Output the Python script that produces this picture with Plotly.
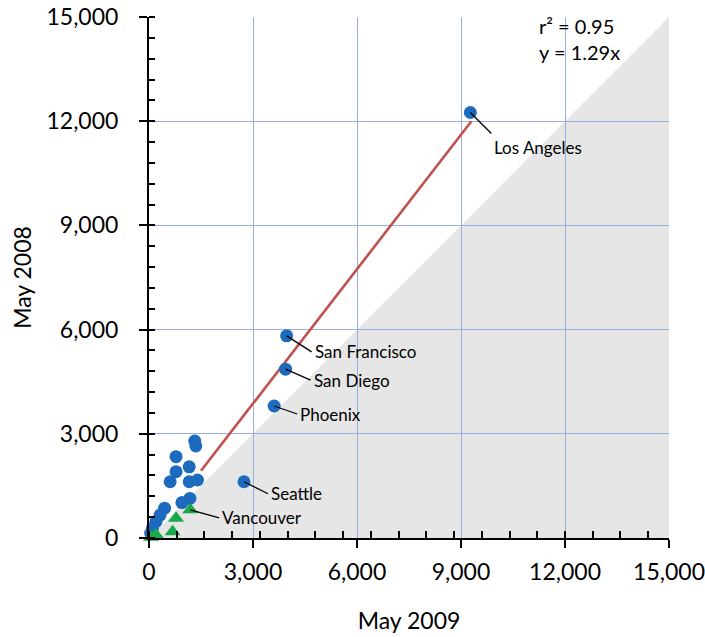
import plotly.graph_objects as go

# Axis scale shared by both axes (square plot, equal ranges)
AXIS_MAX = 15000
TICK_VALS = [0, 3000, 6000, 9000, 12000, 15000]
TICK_TEXT = ["0", "3,000", "6,000", "9,000", "12,000", "15,000"]

# US metros (blue): May 2009 vs May 2008
us_city = ["Los Angeles", "San Francisco", "San Diego", "Phoenix", "Seattle",
           "", "", "", "", "", "", "", "", "", "", "", "", "", "", ""]
us_may2009 = [9270, 3970, 3940, 3610, 2740,
              1320, 1350, 780, 1160, 780, 610, 1160, 1400, 1180, 950,
              450, 320, 200, 100, 50]
us_may2008 = [12250, 5820, 4860, 3800, 1620,
              2790, 2650, 2340, 2050, 1910, 1620, 1620, 1670, 1140, 1020,
              860, 660, 470, 280, 140]

# Canadian metros (green)
ca_city = ["Vancouver", "", "", "", ""]
ca_may2009 = [1190, 780, 680, 200, 60]
ca_may2008 = [810, 570, 180, 90, 20]

# Regression through origin
SLOPE = 1.29
R_SQUARED = 0.95
fit_x = [1500, 9300]
fit_y = [SLOPE * v for v in fit_x]

FONT = "Lato, 'Open Sans', sans-serif"
BLUE = "#1d6bbf"
GREEN = "#19a84a"
RED = "#c0504d"
GRID = "#97afe0"

fig = go.Figure()

fig.add_trace(go.Scatter(x=fit_x, y=fit_y, mode="lines",
                         line=dict(color=RED, width=2.6),
                         hoverinfo="skip", showlegend=False))
fig.add_trace(go.Scatter(x=us_may2009, y=us_may2008, mode="markers",
                         marker=dict(symbol="circle", size=13, color=BLUE),
                         text=us_city, cliponaxis=False, showlegend=False))
fig.add_trace(go.Scatter(x=ca_may2009, y=ca_may2008, mode="markers",
                         marker=dict(symbol="triangle-up", size=14, color=GREEN),
                         text=ca_city, cliponaxis=False, showlegend=False))

# leader-line offsets (pixels) for the named points
leader = {
    "Los Angeles": (21, 21, "top"),
    "San Francisco": (25, 16, "middle"),
    "San Diego": (25, 11, "middle"),
    "Phoenix": (23, 8, "middle"),
    "Seattle": (24, 12, "middle"),
    "Vancouver": (29, 8, "middle"),
}

annotations = []
for names, xs, ys in ((us_city, us_may2009, us_may2008),
                      (ca_city, ca_may2009, ca_may2008)):
    for name, xv, yv in zip(names, xs, ys):
        if not name:
            continue
        ax, ay, yanchor = leader[name]
        annotations.append(dict(
            x=xv, y=yv, xref="x", yref="y", text=name,
            showarrow=True, arrowhead=0, arrowwidth=1.3, arrowcolor="black",
            ax=ax, ay=ay, axref="pixel", ayref="pixel",
            xanchor="left", yanchor=yanchor, borderpad=2,
            font=dict(family=FONT, size=17, color="black")))

annotations.append(dict(x=0.746, y=1.01, xref="paper", yref="paper",
                        text=f"r² = {R_SQUARED:.2f}<br>y = {SLOPE:.2f}x",
                        showarrow=False, align="left",
                        xanchor="left", yanchor="top",
                        font=dict(family=FONT, size=20, color="black")))

axis_common = dict(
    range=[0, AXIS_MAX], tickmode="array", tickvals=TICK_VALS, ticktext=TICK_TEXT,
    ticks="outside", ticklen=8, tickwidth=2, tickcolor="black",
    showline=True, linecolor="black", linewidth=2,
    showgrid=True, gridcolor=GRID, gridwidth=1.2, zeroline=False,
    tickfont=dict(family=FONT, size=23, color="black"),
    layer="above traces", fixedrange=True, automargin=False,
)

fig.update_layout(
    width=705, height=637,
    margin=dict(l=149, r=36, t=17, b=99),
    paper_bgcolor="white", plot_bgcolor="white",
    font=dict(family=FONT, color="black"),
    xaxis=dict(**axis_common,
               minor=dict(tickmode="linear", ticks="inside", dtick=800, tick0=0,
                          ticklen=7, tickwidth=1.5, tickcolor="black",
                          showgrid=False),
               ticklabelstandoff=4,
               title=dict(text="May 2009", font=dict(family=FONT, size=23),
                          standoff=29)),
    yaxis=dict(**axis_common,
               minor=dict(tickmode="linear", ticks="inside", dtick=600, tick0=0,
                          ticklen=6, tickwidth=1.5, tickcolor="black",
                          showgrid=False),
               ticklabelstandoff=16,
               title=dict(text="May 2008", font=dict(family=FONT, size=23),
                          standoff=8)),
    shapes=[dict(type="path", xref="x", yref="y", layer="below",
                 path=f"M 0,0 L {AXIS_MAX},0 L {AXIS_MAX},{AXIS_MAX} Z",
                 fillcolor="#e6e6e6", line=dict(width=0))],
    annotations=annotations,
    showlegend=False,
)

fig.write_html("out.html")
